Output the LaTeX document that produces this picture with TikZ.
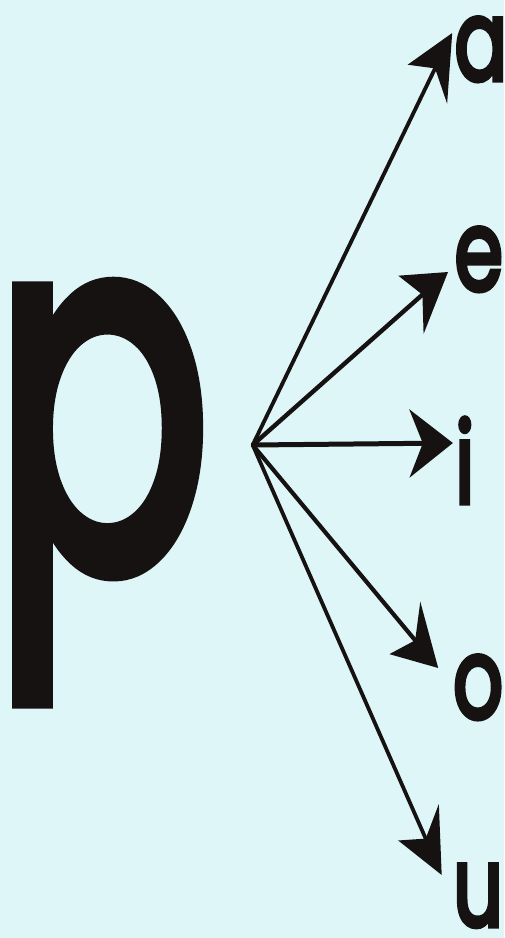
\documentclass[tikz,border=0pt]{standalone}
\usepackage{fontspec}
\setmainfont{Poppins}
\newfontfamily\pfont[FakeBold=3.5]{Poppins}
\newfontfamily\vfont[FakeBold=4.5]{Poppins}
\usetikzlibrary{arrows.meta}
\definecolor{bgc}{RGB}{222,246,247}
\definecolor{ink}{RGB}{22,18,18}
\begin{document}
\begin{tikzpicture}[x=1pt,y=-1pt,
  arr/.style={line width=5pt, line cap=round, draw=ink, fill=ink,
    -{Stealth[length=62pt,width=68pt,inset=19pt]}},
  vowel/.style={font=\vfont\fontsize{112}{112}\selectfont, text=ink, inner sep=0pt, anchor=base},
  bigp/.style={font=\pfont\fontsize{507}{507}\selectfont, text=ink, inner sep=0pt, anchor=base}]
\fill[bgc] (0,0) rectangle (504,938);
\useasboundingbox (0,0) rectangle (504,938);
\begin{scope}[transform canvas={xscale=0.7}]
  \node[bigp] (p) at (146,568) {\scalebox{0.91}[1]{p}};
  \coordinate (hub) at (361,445);
  \coordinate (ta) at (646,33);
  \coordinate (te) at (640,272);
  \coordinate (ti) at (647,443);
  \coordinate (to) at (626,668);
  \coordinate (tu) at (631,875);
  \node[vowel] (a) at (687,80) {a};
  \node[vowel] (e) at (684,290) {e};
  \node[vowel] (i) at (664,503) {i};
  \node[vowel] (o) at (683,718) {o};
  \node[vowel] (u) at (683,926) {u};
  \draw[arr] (hub) -- (ta);
  \draw[arr] (hub) -- (te);
  \draw[arr] (hub) -- (ti);
  \draw[arr] (hub) -- (to);
  \draw[arr] (hub) -- (tu);
\end{scope}
\end{tikzpicture}
\end{document}
